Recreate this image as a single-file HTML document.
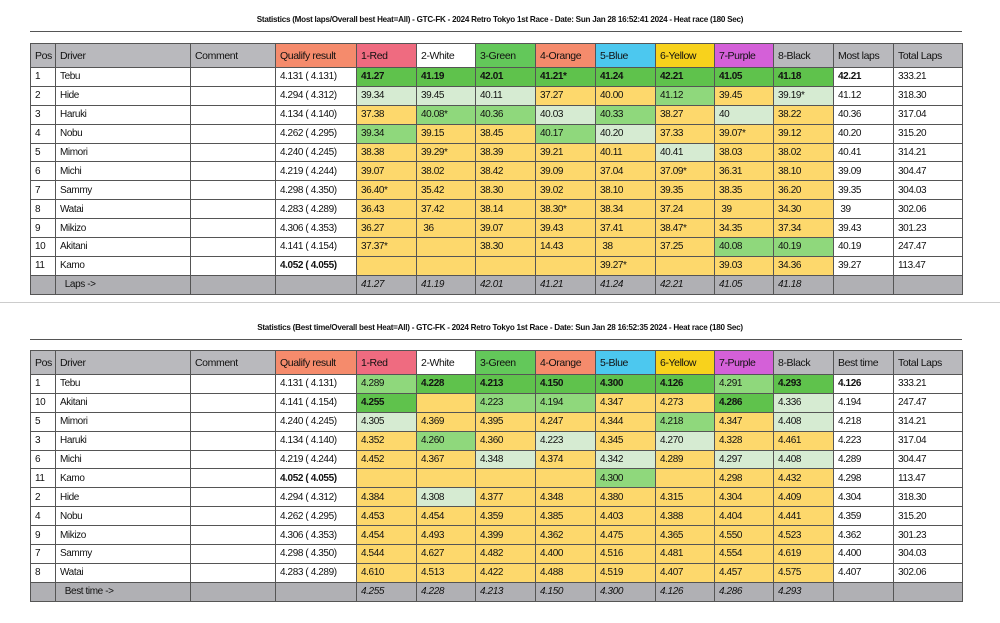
<!DOCTYPE html>
<html><head><meta charset="utf-8"><style>
body{margin:0;background:#fff;width:1000px;height:623px;position:relative;overflow:hidden;font-family:"Liberation Sans",sans-serif;}
.t{position:absolute;left:0;width:1000px;text-align:center;font-size:8.1px;font-weight:bold;letter-spacing:-0.25px;color:#111}
.hr{position:absolute;left:30px;width:932px;height:1px;background:#555}
table{position:absolute;left:30px;width:932px;border-collapse:collapse;table-layout:fixed;font-size:10px;letter-spacing:-0.4px;color:#111}
td{border:1px solid #555;padding:0 0 0 4px;height:17.9px;white-space:nowrap;overflow:hidden}
tr.h td{height:23px;font-size:10.5px}
.g{background:#b9b9bd}.q{background:#f58b6c}.r{background:#ef6b80}.w{background:#fff}.gr{background:#63c85a}.o{background:#f58b6c}.b{background:#4cc8ef}.ye{background:#f8d21c}.pu{background:#d460d8}
.d{background:#5fc24c;font-weight:bold}.l{background:#8fd87c}.p{background:#d6ebd2}.y{background:#fdd86c}
tr.f td{background:#b0b0b4;font-style:italic}
</style></head><body>
<div style="position:absolute;left:0;top:302px;width:1000px;height:1px;background:#ccc"></div>
<div class="t" style="top:15px">Statistics (Most laps/Overall best Heat=All) - GTC-FK - 2024 Retro Tokyo 1st Race - Date: Sun Jan 28 16:52:41 2024 - Heat race (180 Sec)</div>
<div class="hr" style="top:31px"></div>
<table style="top:43px">
<colgroup><col style="width:25px"><col style="width:135px"><col style="width:85px"><col style="width:81px"><col style="width:60px"><col style="width:59px"><col style="width:60px"><col style="width:60px"><col style="width:60px"><col style="width:59px"><col style="width:59px"><col style="width:60px"><col style="width:60px"><col style="width:69px"></colgroup>
<tr class="h"><td class="g">Pos</td><td class="g">Driver</td><td class="g">Comment</td><td class="q">Qualify result</td><td class="r">1-Red</td><td class="w">2-White</td><td class="gr">3-Green</td><td class="o">4-Orange</td><td class="b">5-Blue</td><td class="ye">6-Yellow</td><td class="pu">7-Purple</td><td class="g">8-Black</td><td class="g">Most laps</td><td class="g">Total Laps</td></tr>
<tr><td>1</td><td>Tebu</td><td></td><td>4.131 ( 4.131)</td><td class="d">41.27</td><td class="d">41.19</td><td class="d">42.01</td><td class="d">41.21*</td><td class="d">41.24</td><td class="d">42.21</td><td class="d">41.05</td><td class="d">41.18</td><td><b>42.21</b></td><td>333.21</td></tr>
<tr><td>2</td><td>Hide</td><td></td><td>4.294 ( 4.312)</td><td class="p">39.34</td><td class="p">39.45</td><td class="p">40.11</td><td class="y">37.27</td><td class="y">40.00</td><td class="l">41.12</td><td class="y">39.45</td><td class="p">39.19*</td><td>41.12</td><td>318.30</td></tr>
<tr><td>3</td><td>Haruki</td><td></td><td>4.134 ( 4.140)</td><td class="y">37.38</td><td class="l">40.08*</td><td class="l">40.36</td><td class="p">40.03</td><td class="l">40.33</td><td class="y">38.27</td><td class="p">40</td><td class="y">38.22</td><td>40.36</td><td>317.04</td></tr>
<tr><td>4</td><td>Nobu</td><td></td><td>4.262 ( 4.295)</td><td class="l">39.34</td><td class="y">39.15</td><td class="y">38.45</td><td class="l">40.17</td><td class="p">40.20</td><td class="y">37.33</td><td class="y">39.07*</td><td class="y">39.12</td><td>40.20</td><td>315.20</td></tr>
<tr><td>5</td><td>Mimori</td><td></td><td>4.240 ( 4.245)</td><td class="y">38.38</td><td class="y">39.29*</td><td class="y">38.39</td><td class="y">39.21</td><td class="y">40.11</td><td class="p">40.41</td><td class="y">38.03</td><td class="y">38.02</td><td>40.41</td><td>314.21</td></tr>
<tr><td>6</td><td>Michi</td><td></td><td>4.219 ( 4.244)</td><td class="y">39.07</td><td class="y">38.02</td><td class="y">38.42</td><td class="y">39.09</td><td class="y">37.04</td><td class="y">37.09*</td><td class="y">36.31</td><td class="y">38.10</td><td>39.09</td><td>304.47</td></tr>
<tr><td>7</td><td>Sammy</td><td></td><td>4.298 ( 4.350)</td><td class="y">36.40*</td><td class="y">35.42</td><td class="y">38.30</td><td class="y">39.02</td><td class="y">38.10</td><td class="y">39.35</td><td class="y">38.35</td><td class="y">36.20</td><td>39.35</td><td>304.03</td></tr>
<tr><td>8</td><td>Watai</td><td></td><td>4.283 ( 4.289)</td><td class="y">36.43</td><td class="y">37.42</td><td class="y">38.14</td><td class="y">38.30*</td><td class="y">38.34</td><td class="y">37.24</td><td class="y">&nbsp;39</td><td class="y">34.30</td><td>&nbsp;39</td><td>302.06</td></tr>
<tr><td>9</td><td>Mikizo</td><td></td><td>4.306 ( 4.353)</td><td class="y">36.27</td><td class="y">&nbsp;36</td><td class="y">39.07</td><td class="y">39.43</td><td class="y">37.41</td><td class="y">38.47*</td><td class="y">34.35</td><td class="y">37.34</td><td>39.43</td><td>301.23</td></tr>
<tr><td>10</td><td>Akitani</td><td></td><td>4.141 ( 4.154)</td><td class="y">37.37*</td><td class="y"></td><td class="y">38.30</td><td class="y">14.43</td><td class="y">&nbsp;38</td><td class="y">37.25</td><td class="l">40.08</td><td class="l">40.19</td><td>40.19</td><td>247.47</td></tr>
<tr><td>11</td><td>Kamo</td><td></td><td><b>4.052 ( 4.055)</b></td><td class="y"></td><td class="y"></td><td class="y"></td><td class="y"></td><td class="y">39.27*</td><td class="y"></td><td class="y">39.03</td><td class="y">34.36</td><td>39.27</td><td>113.47</td></tr>
<tr class="f"><td></td><td style="font-style:normal">&nbsp;&nbsp;Laps -&gt;</td><td></td><td></td><td>41.27</td><td>41.19</td><td>42.01</td><td>41.21</td><td>41.24</td><td>42.21</td><td>41.05</td><td>41.18</td><td></td><td></td></tr>
</table>

<div class="t" style="top:323px">Statistics (Best time/Overall best Heat=All) - GTC-FK - 2024 Retro Tokyo 1st Race - Date: Sun Jan 28 16:52:35 2024 - Heat race (180 Sec)</div>
<div class="hr" style="top:339px"></div>
<table style="top:350px">
<colgroup><col style="width:25px"><col style="width:135px"><col style="width:85px"><col style="width:81px"><col style="width:60px"><col style="width:59px"><col style="width:60px"><col style="width:60px"><col style="width:60px"><col style="width:59px"><col style="width:59px"><col style="width:60px"><col style="width:60px"><col style="width:69px"></colgroup>
<tr class="h"><td class="g">Pos</td><td class="g">Driver</td><td class="g">Comment</td><td class="q">Qualify result</td><td class="r">1-Red</td><td class="w">2-White</td><td class="gr">3-Green</td><td class="o">4-Orange</td><td class="b">5-Blue</td><td class="ye">6-Yellow</td><td class="pu">7-Purple</td><td class="g">8-Black</td><td class="g">Best time</td><td class="g">Total Laps</td></tr>
<tr><td>1</td><td>Tebu</td><td></td><td>4.131 ( 4.131)</td><td class="l">4.289</td><td class="d">4.228</td><td class="d">4.213</td><td class="d">4.150</td><td class="d">4.300</td><td class="d">4.126</td><td class="l">4.291</td><td class="d">4.293</td><td><b>4.126</b></td><td>333.21</td></tr>
<tr><td>10</td><td>Akitani</td><td></td><td>4.141 ( 4.154)</td><td class="d">4.255</td><td class="y"></td><td class="l">4.223</td><td class="l">4.194</td><td class="y">4.347</td><td class="y">4.273</td><td class="d">4.286</td><td class="p">4.336</td><td>4.194</td><td>247.47</td></tr>
<tr><td>5</td><td>Mimori</td><td></td><td>4.240 ( 4.245)</td><td class="p">4.305</td><td class="y">4.369</td><td class="y">4.395</td><td class="y">4.247</td><td class="y">4.344</td><td class="l">4.218</td><td class="y">4.347</td><td class="p">4.408</td><td>4.218</td><td>314.21</td></tr>
<tr><td>3</td><td>Haruki</td><td></td><td>4.134 ( 4.140)</td><td class="y">4.352</td><td class="l">4.260</td><td class="y">4.360</td><td class="p">4.223</td><td class="y">4.345</td><td class="p">4.270</td><td class="y">4.328</td><td class="y">4.461</td><td>4.223</td><td>317.04</td></tr>
<tr><td>6</td><td>Michi</td><td></td><td>4.219 ( 4.244)</td><td class="y">4.452</td><td class="y">4.367</td><td class="p">4.348</td><td class="y">4.374</td><td class="p">4.342</td><td class="y">4.289</td><td class="p">4.297</td><td class="p">4.408</td><td>4.289</td><td>304.47</td></tr>
<tr><td>11</td><td>Kamo</td><td></td><td><b>4.052 ( 4.055)</b></td><td class="y"></td><td class="y"></td><td class="y"></td><td class="y"></td><td class="l">4.300</td><td class="y"></td><td class="y">4.298</td><td class="y">4.432</td><td>4.298</td><td>113.47</td></tr>
<tr><td>2</td><td>Hide</td><td></td><td>4.294 ( 4.312)</td><td class="y">4.384</td><td class="p">4.308</td><td class="y">4.377</td><td class="y">4.348</td><td class="y">4.380</td><td class="y">4.315</td><td class="y">4.304</td><td class="y">4.409</td><td>4.304</td><td>318.30</td></tr>
<tr><td>4</td><td>Nobu</td><td></td><td>4.262 ( 4.295)</td><td class="y">4.453</td><td class="y">4.454</td><td class="y">4.359</td><td class="y">4.385</td><td class="y">4.403</td><td class="y">4.388</td><td class="y">4.404</td><td class="y">4.441</td><td>4.359</td><td>315.20</td></tr>
<tr><td>9</td><td>Mikizo</td><td></td><td>4.306 ( 4.353)</td><td class="y">4.454</td><td class="y">4.493</td><td class="y">4.399</td><td class="y">4.362</td><td class="y">4.475</td><td class="y">4.365</td><td class="y">4.550</td><td class="y">4.523</td><td>4.362</td><td>301.23</td></tr>
<tr><td>7</td><td>Sammy</td><td></td><td>4.298 ( 4.350)</td><td class="y">4.544</td><td class="y">4.627</td><td class="y">4.482</td><td class="y">4.400</td><td class="y">4.516</td><td class="y">4.481</td><td class="y">4.554</td><td class="y">4.619</td><td>4.400</td><td>304.03</td></tr>
<tr><td>8</td><td>Watai</td><td></td><td>4.283 ( 4.289)</td><td class="y">4.610</td><td class="y">4.513</td><td class="y">4.422</td><td class="y">4.488</td><td class="y">4.519</td><td class="y">4.407</td><td class="y">4.457</td><td class="y">4.575</td><td>4.407</td><td>302.06</td></tr>
<tr class="f"><td></td><td style="font-style:normal">&nbsp;&nbsp;Best time -&gt;</td><td></td><td></td><td>4.255</td><td>4.228</td><td>4.213</td><td>4.150</td><td>4.300</td><td>4.126</td><td>4.286</td><td>4.293</td><td></td><td></td></tr>
</table>
</body></html>
